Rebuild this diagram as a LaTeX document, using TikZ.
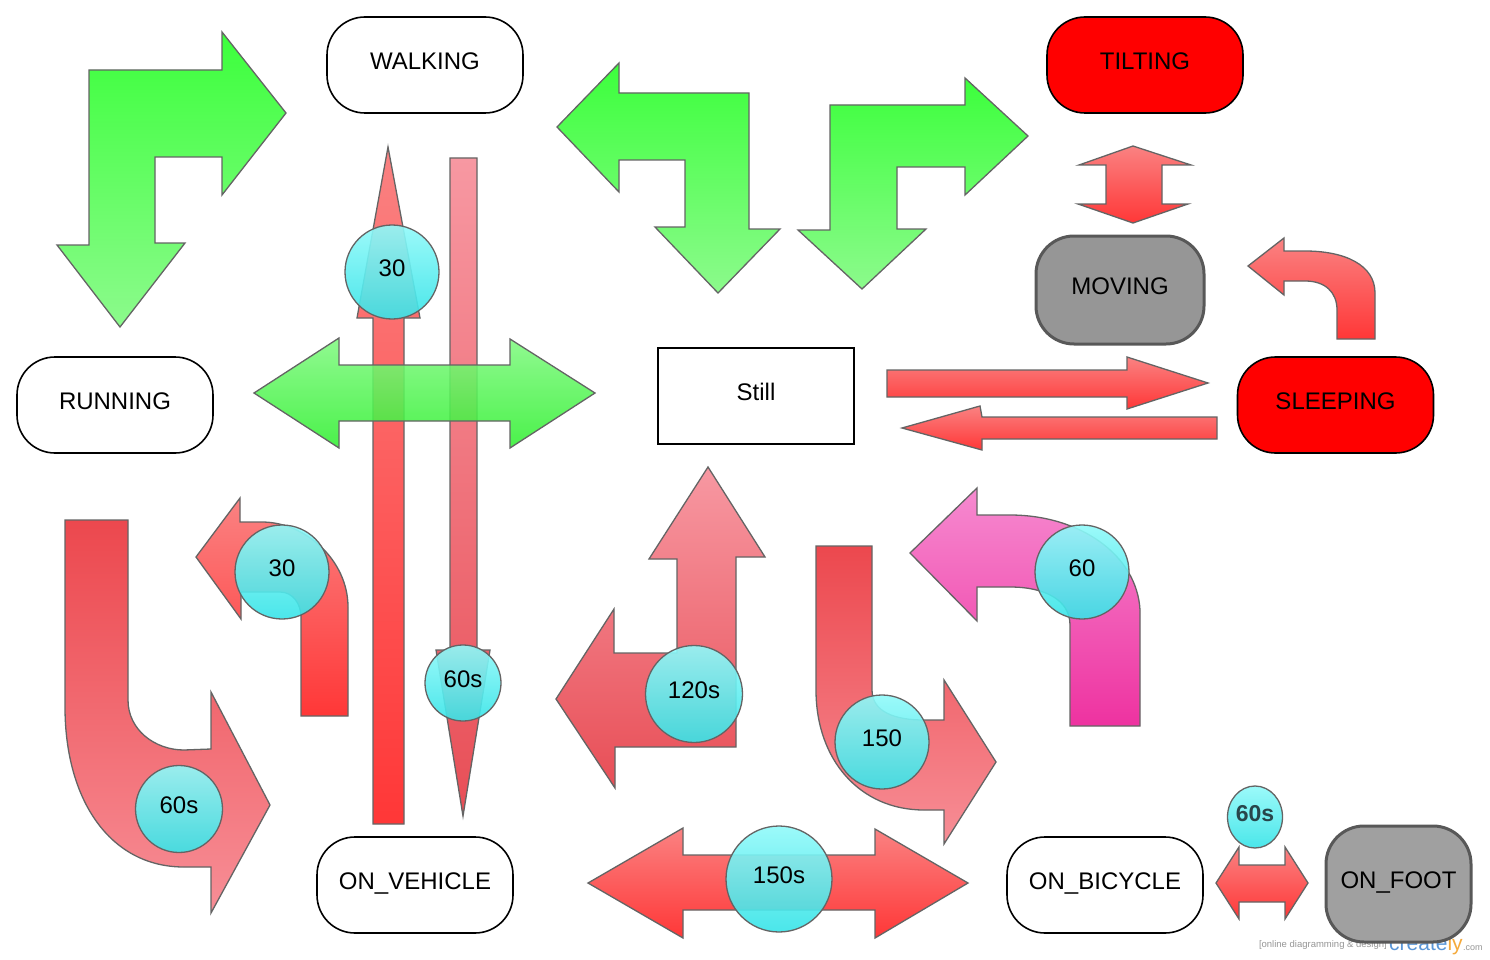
\documentclass[tikz,border=0pt]{standalone}
\usepackage{fontspec}
\setmainfont{Liberation Sans}
\usetikzlibrary{shapes.geometric}
\definecolor{edgegray}{RGB}{100,100,100}
\definecolor{darkedge}{RGB}{88,88,88}
\definecolor{gtop}{RGB}{60,255,60}
\definecolor{gbot}{RGB}{140,250,140}
\definecolor{gmtop}{RGB}{130,250,130}
\definecolor{gmbot}{RGB}{50,240,50}
\definecolor{ratop}{RGB}{250,130,130}
\definecolor{rabot}{RGB}{255,55,55}
\definecolor{rbtop}{RGB}{236,72,78}
\definecolor{rbbot}{RGB}{247,142,150}
\definecolor{rctop}{RGB}{247,152,162}
\definecolor{rcbot}{RGB}{232,78,86}
\definecolor{mtop}{RGB}{246,138,208}
\definecolor{mbot}{RGB}{238,50,160}
\definecolor{ctop}{RGB}{145,250,250}
\definecolor{cbot}{RGB}{55,228,232}
\definecolor{movegray}{RGB}{150,150,150}
\definecolor{footgray}{RGB}{160,160,160}
\definecolor{wmgray}{RGB}{150,150,150}
\definecolor{wmblue}{RGB}{90,150,215}
\definecolor{wmorange}{RGB}{245,170,60}
\newcommand\mylbl{\fontsize{24}{28}\selectfont}
\begin{document}
\begin{tikzpicture}[x=1pt,y=-1pt,
  ashape/.style={draw=edgegray, line width=1.3pt, line join=miter},
  grn/.style={ashape, top color=gtop, bottom color=gbot},
  grnmid/.style={ashape, top color=gmtop, bottom color=gmbot, fill opacity=0.88},
  redA/.style={ashape, top color=ratop, bottom color=rabot},
  redB/.style={ashape, top color=rbtop, bottom color=rbbot},
  redC/.style={ashape, top color=rctop, bottom color=rcbot},
  mag/.style={ashape, top color=mtop, bottom color=mbot},
  state/.style={rectangle, draw=black, line width=1.6pt, rounded corners=38pt, minimum width=196pt, minimum height=96pt, inner sep=0pt, font=\mylbl, text height=17pt, text depth=8pt},
  redstate/.style={state, fill=red},
  greystate/.style={state, draw=darkedge, line width=3pt},
  badge/.style={circle, draw=edgegray, line width=1.3pt, top color=ctop, bottom color=cbot, fill opacity=0.9, text opacity=1, inner sep=0pt, font=\mylbl, text height=17pt, text depth=8pt}
]
\useasboundingbox (0,0) rectangle (1490,960);
\fill[white] (0,0) rectangle (1490,960);

% watermark
\node[anchor=base east, inner sep=0pt, text=wmgray, font=\fontsize{9.5}{11}\selectfont] (wm1) at (1387,947) {[online diagramming \& design]};
\node[anchor=base west, inner sep=0pt, font=\fontsize{21}{24}\selectfont] (wm2) at (1389,950) {\textcolor{wmblue}{create}\textcolor{wmorange}{ly}};
\node[anchor=base west, inner sep=0pt, text=wmgray, font=\fontsize{9}{10}\selectfont] (wm3) at (wm2.base east) {.com};

% state nodes
\node[state] (walking) at (425,65) {WALKING};
\node[redstate] (tilting) at (1145,65) {TILTING};
\node[state] (running) at (115,405) {RUNNING};
\node[state, rounded corners=0pt] (still) at (756,396) {Still};
\node[greystate, fill=movegray, minimum width=168pt, minimum height=108pt] (moving) at (1120,290) {MOVING};
\node[redstate] (sleeping) at (1335.5,405) {SLEEPING};
\node[state] (onvehicle) at (415,885) {ON\_VEHICLE};
\node[state] (onbicycle) at (1105,885) {ON\_BICYCLE};
\node[greystate, fill=footgray, minimum width=145pt, minimum height=116pt] (onfoot) at (1398.5,884) {ON\_FOOT};

% thin vertical red arrows
\path[redA] (388,147) -- (420,318) -- (404,318) -- (404,824) -- (373,824) -- (373,318) -- (357,318) -- cycle;
\path[redC] (450,158) -- (477,158) -- (477,650) -- (490,650) -- (463,816) -- (436,650) -- (450,650) -- cycle;

% green arrows
\path[grn] (89,70) -- (222,70) -- (222,32) -- (286,113) -- (222,195) -- (222,157) -- (155,157) -- (155,243) -- (185,243) -- (120,327) -- (57,245) -- (89,245) -- cycle;
\path[grn] (557,127) -- (619,63) -- (619,93) -- (749,93) -- (749,229) -- (780,229) -- (718,293) -- (655,227) -- (685,227) -- (685,160) -- (619,160) -- (619,192) -- cycle;
\path[grn] (830,105) -- (965,105) -- (965,78) -- (1028,136) -- (965,195) -- (965,167) -- (897,167) -- (897,229) -- (926,229) -- (862,289) -- (798,230) -- (830,230) -- cycle;
\path[grnmid] (254,393) -- (339,338) -- (339,365) -- (510,365) -- (510,339) -- (595,393) -- (510,448) -- (510,421) -- (339,421) -- (339,448) -- cycle;

% red arrows, upper right
\path[redA] (1133,146) -- (1191,165) -- (1162,165) -- (1162,204) -- (1188,204) -- (1133,223) -- (1078,204) -- (1106,204) -- (1106,165) -- (1079,165) -- cycle;
\path[redA] (1284,238) -- (1248,266) -- (1284,295) -- (1284,281) -- (1305,281) .. controls (1325,281) and (1337,292) .. (1337,310) -- (1337,339) -- (1375,339) -- (1375,293) .. controls (1375,265) and (1345,251) .. (1305,251) -- (1284,251) -- cycle;
\path[redA] (887,370) -- (1127,370) -- (1127,357) -- (1208,383) -- (1127,409) -- (1127,397) -- (887,397) -- cycle;
\path[redA] (1217,417) -- (982,417) -- (980,406) -- (902,428) -- (982,450) -- (982,439) -- (1217,439) -- cycle;

% red arrows, lower half
\path[redB] (65,520) -- (128,520) -- (128,700) .. controls (128,730) and (155,750) .. (184,750) -- (211,749) -- (211,692) -- (270,805) -- (211,913) -- (211,867) -- (184,867) .. controls (110,867) and (65,800) .. (65,707) -- cycle;
\path[redA] (240,498) -- (196,557) -- (241,619) -- (241,592) -- (280,592) .. controls (293,592) and (301,604) .. (301,617) -- (301,716) -- (348,716) -- (348,607) .. controls (348,560) and (305,522) .. (262,522) -- (240,522) -- cycle;
\path[redC] (708,467) -- (765,557) -- (736,557) -- (736,747) -- (615,747) -- (615,788) -- (556,699) -- (614,609) -- (614,653) -- (677,653) -- (677,559) -- (649,559) -- cycle;
\path[redB] (816,546) -- (872,546) -- (872,690) .. controls (872,712) and (895,720) .. (924,720) -- (944,720) -- (944,680) -- (996,762) -- (944,844) -- (944,810) -- (924,810) .. controls (860,810) and (816,760) .. (816,690) -- cycle;
\path[mag] (977,488) -- (910,553) -- (977,621) -- (977,587) -- (1010,587) .. controls (1045,587) and (1070,600) .. (1070,625) -- (1070,726) -- (1140,726) -- (1140,610) .. controls (1137,555) and (1080,515) .. (1010,515) -- (977,515) -- cycle;
\path[redA] (588,883) -- (683,828) -- (683,855) -- (875,855) -- (875,829) -- (968,883) -- (875,938) -- (875,910) -- (683,910) -- (683,938) -- cycle;
\path[redA] (1216,883) -- (1239,847) -- (1239,865) -- (1285,865) -- (1285,847) -- (1308,883) -- (1285,919) -- (1285,902) -- (1239,902) -- (1239,919) -- cycle;

% timer badges
\node[badge, minimum size=94pt] (b30a) at (392,272) {30};
\node[badge, minimum size=94pt] (b30b) at (282,572) {30};
\node[badge, minimum size=87pt] (b60sa) at (179,809) {60s};
\node[badge, minimum size=76pt] (b60sb) at (463,683) {60s};
\node[badge, minimum size=97pt] (b120s) at (694,694) {120s};
\node[badge, minimum size=106pt] (b150s) at (779,879) {150s};
\node[badge, minimum size=94pt] (b150) at (882,742) {150};
\node[badge, minimum size=94pt] (b60) at (1082,572) {60};
\node[badge, ellipse, minimum width=55pt, minimum height=62pt, text={rgb,255:red,40;green,70;blue,75}, font=\fontsize{23}{27}\selectfont\bfseries] (b60sc) at (1255,817) {60s};
\end{tikzpicture}
\end{document}
